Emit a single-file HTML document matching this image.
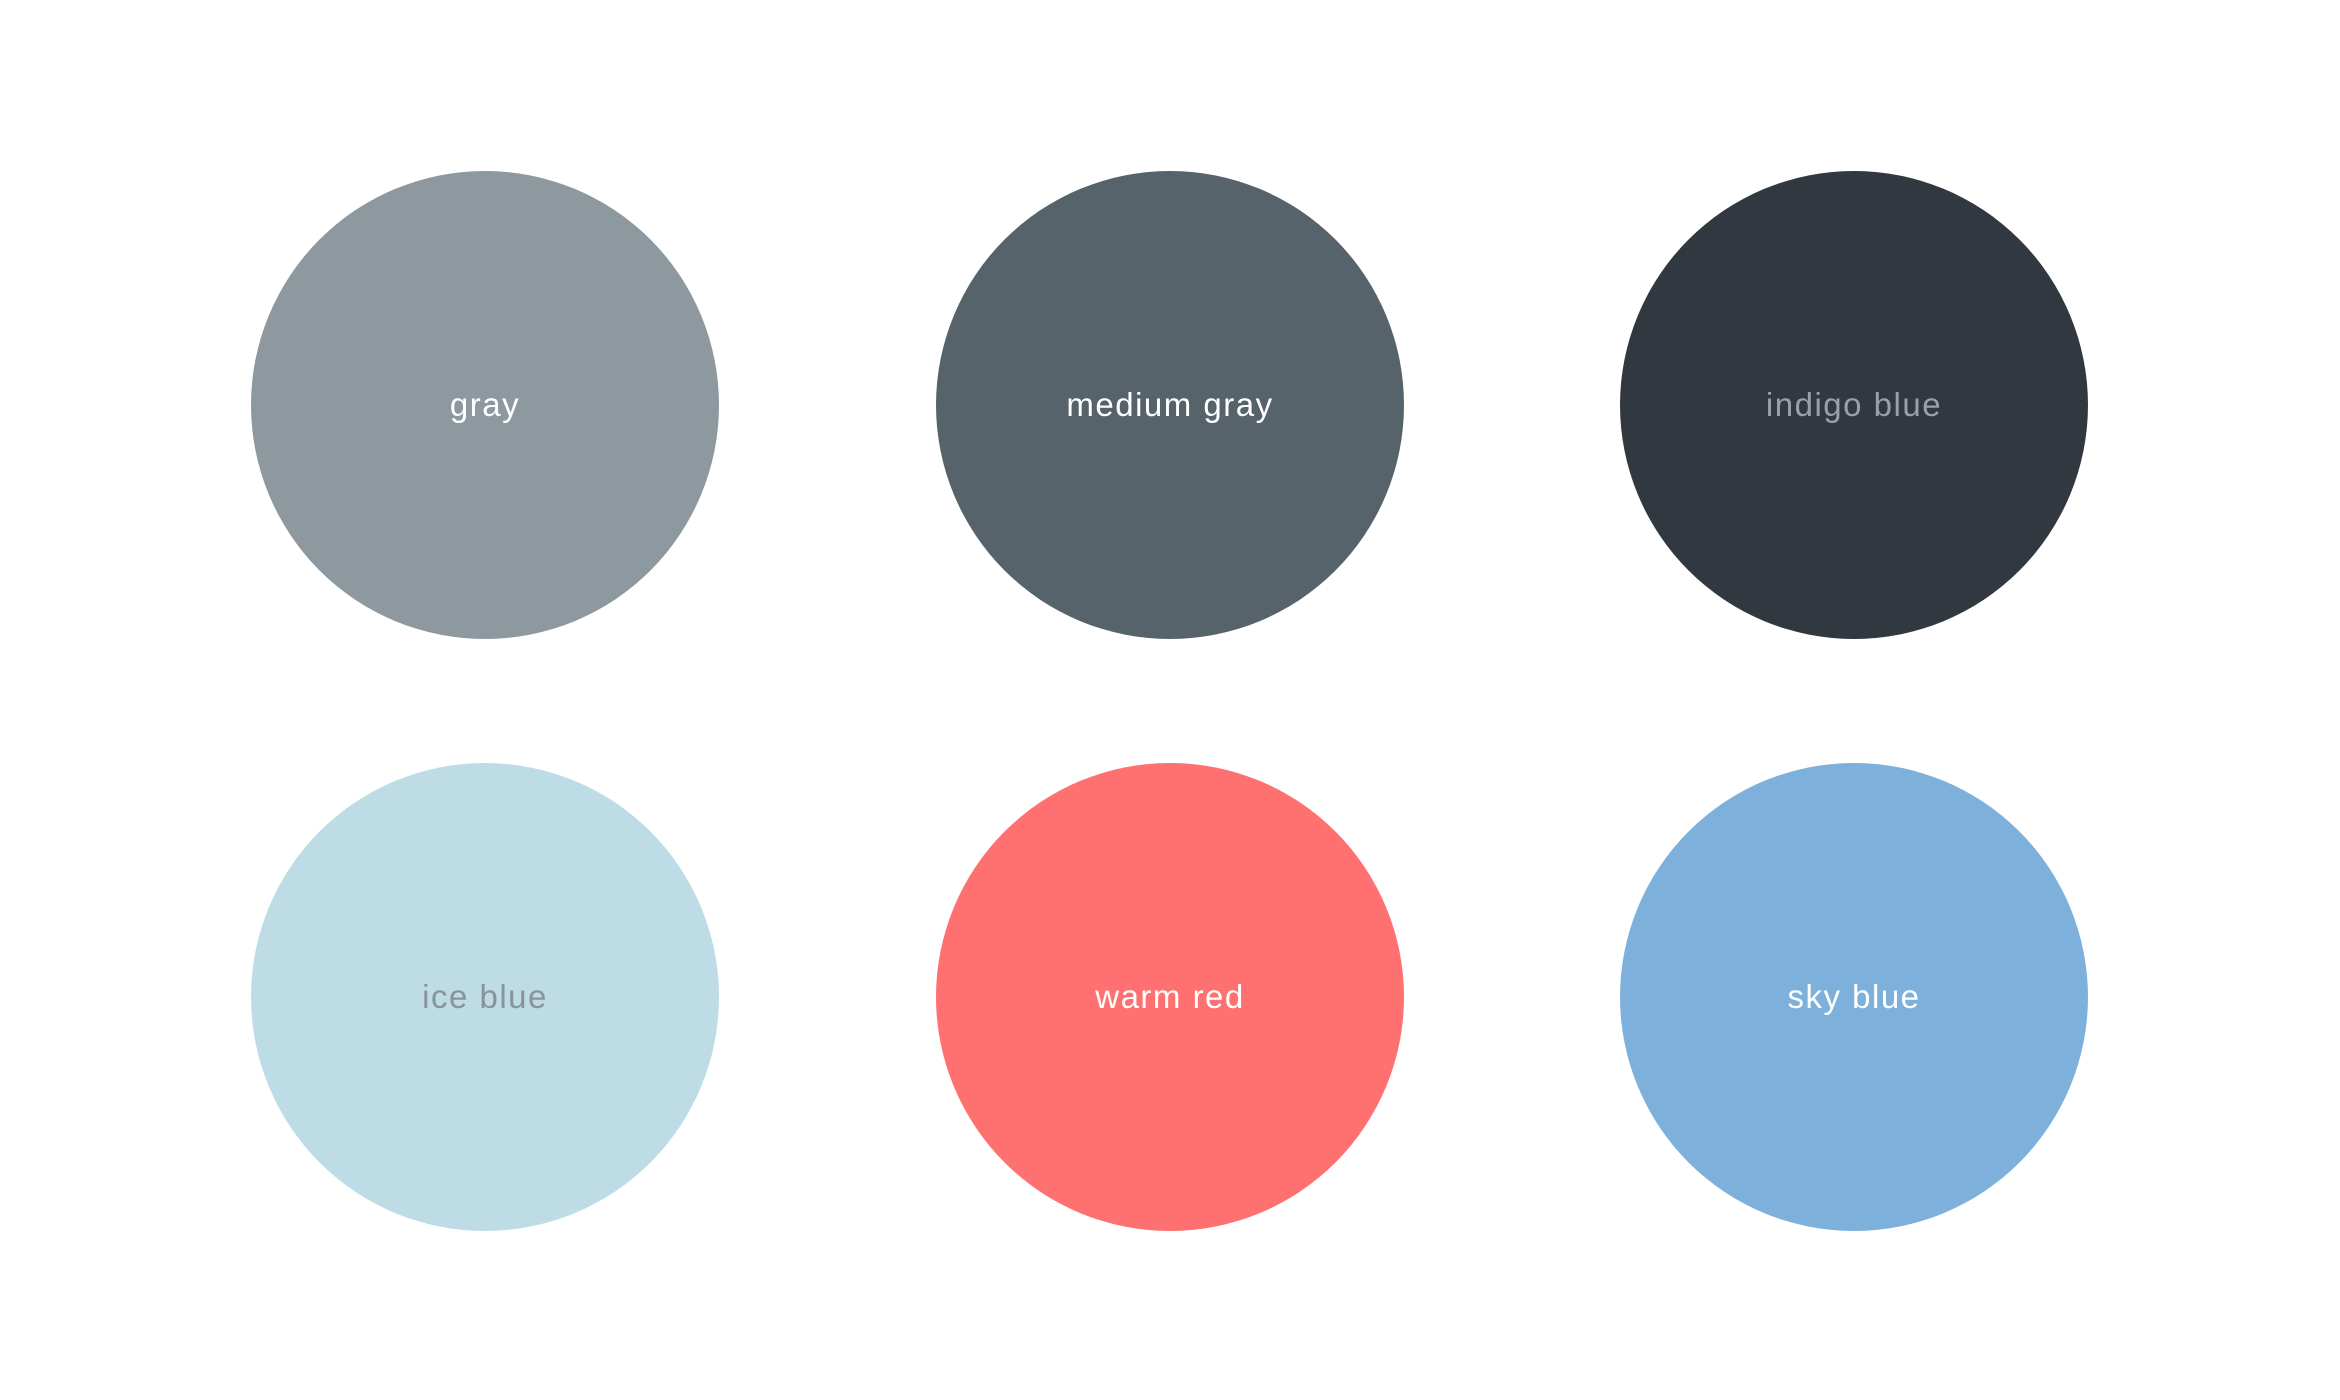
<!DOCTYPE html>
<html>
<head>
<meta charset="utf-8">
<style>
html,body{margin:0;padding:0;background:#fff;}
svg{display:block;}
text{font-family:"Liberation Sans","DejaVu Sans",sans-serif;font-size:33px;letter-spacing:1.5px;}
</style>
</head>
<body>
<svg width="2340" height="1400" viewBox="0 0 2340 1400" xmlns="http://www.w3.org/2000/svg">
<rect width="2340" height="1400" fill="#ffffff"/>
<circle cx="485" cy="405" r="234" fill="#8d999f"/>
<circle cx="1170" cy="405" r="234" fill="#56636b"/>
<circle cx="1854" cy="405" r="234" fill="#323840"/>
<circle cx="485" cy="997" r="234" fill="#bddce6"/>
<circle cx="1170" cy="997" r="234" fill="#ff7070"/>
<circle cx="1854" cy="997" r="234" fill="#7db1db"/>
<g text-anchor="middle">
<text x="485" y="416" fill="#ffffff">gray</text>
<text x="1170" y="416" fill="#ffffff">medium gray</text>
<text x="1854" y="416" fill="#9aa0a8">indigo blue</text>
<text x="485" y="1008" fill="#88939a">ice blue</text>
<text x="1170" y="1008" fill="#ffffff">warm red</text>
<text x="1854" y="1008" fill="#ffffff">sky blue</text>
</g>
</svg>
</body>
</html>
